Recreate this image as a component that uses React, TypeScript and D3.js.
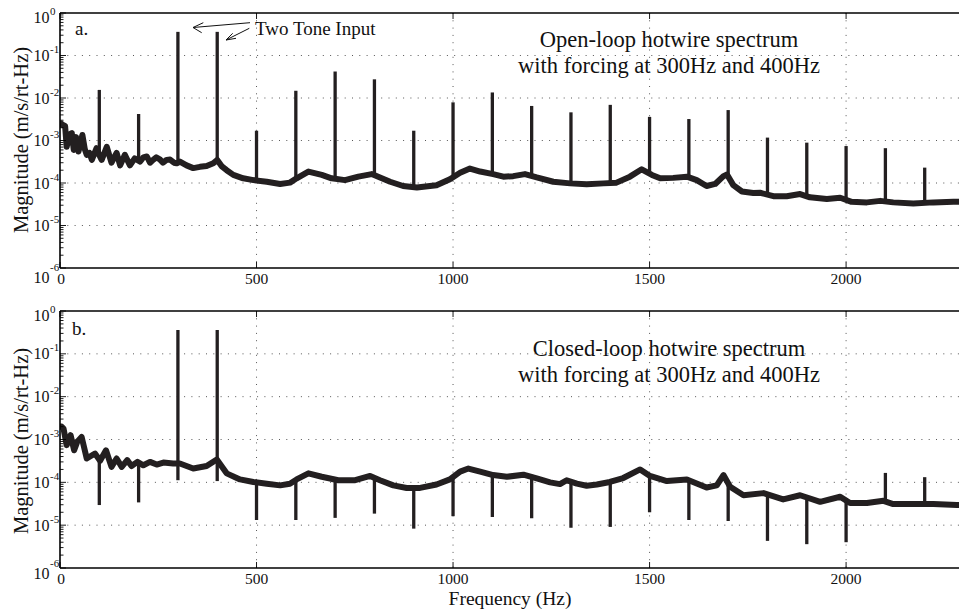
import React from 'react';
import * as d3 from 'd3';

// ---------- data ----------
const openFreq = [0, 3, 8, 13, 17, 24, 30, 35, 41, 47, 57, 63, 68, 75, 81, 93, 100, 106, 119, 131, 144, 153, 165, 178, 190, 204, 212, 221, 229, 237, 245, 254, 262, 271, 280, 290, 297, 305, 322, 339, 356, 373, 390, 400, 411, 424, 441, 466, 492, 526, 560, 585, 602, 632, 666, 691, 725, 759, 793, 840, 873, 908, 958, 992, 1018, 1043, 1069, 1102, 1128, 1153, 1183, 1213, 1255, 1298, 1340, 1383, 1416, 1450, 1480, 1506, 1527, 1560, 1595, 1620, 1645, 1667, 1688, 1697, 1713, 1735, 1764, 1781, 1815, 1849, 1883, 1908, 1951, 1985, 2014, 2053, 2087, 2120, 2171, 2222, 2273, 2300];
const openMag = [2.4e-3, 2.5e-3, 2.3e-3, 2.2e-3, 7.1e-4, 1.4e-3, 1.5e-3, 6.0e-4, 1.2e-3, 5.5e-4, 1.35e-3, 6.3e-4, 4.6e-4, 5.1e-4, 3.5e-4, 6.6e-4, 4.5e-4, 3.5e-4, 7.1e-4, 3.0e-4, 5.1e-4, 2.6e-4, 4.6e-4, 2.6e-4, 3.8e-4, 3.2e-4, 4.0e-4, 4.2e-4, 3.0e-4, 3.5e-4, 4.0e-4, 3.6e-4, 3.0e-4, 3.5e-4, 3.55e-4, 3.0e-4, 2.9e-4, 3.2e-4, 2.6e-4, 2.24e-4, 2.4e-4, 2.5e-4, 2.9e-4, 3.5e-4, 2.5e-4, 2.0e-4, 1.55e-4, 1.29e-4, 1.17e-4, 1.07e-4, 9.5e-5, 1.02e-4, 1.29e-4, 1.86e-4, 1.55e-4, 1.29e-4, 1.17e-4, 1.41e-4, 1.62e-4, 1.07e-4, 8.5e-5, 7.8e-5, 8.9e-5, 1.23e-4, 1.74e-4, 2.19e-4, 1.86e-4, 1.62e-4, 1.41e-4, 1.45e-4, 1.62e-4, 1.35e-4, 1.07e-4, 9.8e-5, 9.3e-5, 9.8e-5, 1.02e-4, 1.41e-4, 2.1e-4, 1.55e-4, 1.29e-4, 1.32e-4, 1.41e-4, 1.17e-4, 8.5e-5, 9.5e-5, 1.45e-4, 1.58e-4, 8.9e-5, 6.3e-5, 5.8e-5, 5.9e-5, 4.9e-5, 4.9e-5, 5.5e-5, 4.6e-5, 4.2e-5, 4.5e-5, 3.6e-5, 3.5e-5, 3.8e-5, 3.5e-5, 3.3e-5, 3.5e-5, 3.6e-5, 3.6e-5];

const openSpikeFreq = [100, 200, 300, 400, 500, 600, 700, 800, 900, 1000, 1100, 1200, 1300, 1400, 1500, 1600, 1700, 1800, 1900, 2000, 2100, 2200];
const openSpikePeak = [1.55e-2, 4.2e-3, 0.36, 0.36, 1.7e-3, 1.48e-2, 4.2e-2, 2.75e-2, 1.7e-3, 7.9e-3, 1.35e-2, 6.5e-3, 4.6e-3, 6.9e-3, 3.6e-3, 3.2e-3, 5.2e-3, 1.17e-3, 8.9e-4, 7.4e-4, 6.6e-4, 2.3e-4];

const closedFreq = [0, 4, 9, 17, 27, 36, 44, 55, 68, 89, 102, 117, 131, 144, 157, 171, 182, 197, 212, 229, 246, 263, 288, 305, 339, 373, 399, 424, 458, 492, 526, 560, 585, 602, 632, 666, 708, 751, 789, 814, 848, 882, 916, 958, 992, 1018, 1039, 1069, 1102, 1137, 1179, 1213, 1247, 1272, 1289, 1315, 1340, 1366, 1399, 1433, 1476, 1501, 1544, 1595, 1645, 1671, 1688, 1705, 1739, 1790, 1840, 1883, 1934, 1985, 2010, 2053, 2095, 2120, 2180, 2222, 2282, 2300];
const closedMag = [2.0e-3, 2.0e-3, 1.8e-3, 7.4e-4, 1.26e-3, 5.6e-4, 8.9e-4, 1.15e-3, 3.6e-4, 4.7e-4, 3.2e-4, 5.6e-4, 2.3e-4, 3.6e-4, 2.3e-4, 3.3e-4, 2.4e-4, 3.0e-4, 2.5e-4, 3.0e-4, 2.6e-4, 2.9e-4, 2.75e-4, 2.75e-4, 2.1e-4, 2.4e-4, 3.4e-4, 1.62e-4, 1.17e-4, 1.02e-4, 9.3e-5, 8.5e-5, 9.3e-5, 1.17e-4, 1.62e-4, 1.35e-4, 1.12e-4, 1.12e-4, 1.41e-4, 1.12e-4, 8.5e-5, 7.4e-5, 7.4e-5, 8.9e-5, 1.17e-4, 1.78e-4, 2.1e-4, 1.78e-4, 1.48e-4, 1.35e-4, 1.51e-4, 1.23e-4, 1.0e-4, 9.1e-5, 1.12e-4, 9.3e-5, 8.3e-5, 8.9e-5, 1.02e-4, 1.26e-4, 2.0e-4, 1.41e-4, 1.07e-4, 1.17e-4, 7.6e-5, 8.5e-5, 1.48e-4, 7.9e-5, 5.0e-5, 5.6e-5, 4.0e-5, 5.0e-5, 3.5e-5, 4.6e-5, 3.3e-5, 3.3e-5, 3.7e-5, 3.1e-5, 3.1e-5, 3.1e-5, 2.95e-5, 2.95e-5];

const closedSpikeFreq = [100, 200, 300, 400, 500, 600, 700, 800, 900, 1000, 1100, 1200, 1300, 1400, 1500, 1600, 1700, 1800, 1900, 2000, 2100, 2200];
const closedSpikePeak: (number | null)[] = [null, null, 0.36, 0.36, null, null, null, null, null, null, null, null, null, null, null, null, null, null, null, null, 1.66e-4, 1.32e-4];
const closedSpikeTrough: (number | null)[] = [2.95e-5, 3.4e-5, 1.12e-4, 1.07e-4, 1.32e-5, 1.32e-5, 1.48e-5, 1.86e-5, 8.3e-6, 1.62e-5, 1.55e-5, 1.45e-5, 8.7e-6, 9.1e-6, 2.0e-5, 1.32e-5, 1.25e-5, 4.3e-6, 3.6e-6, 4.0e-6, null, null];

const xTicks = [0, 500, 1000, 1500, 2000];
const yExponents = [0, -1, -2, -3, -4, -5, -6];

// ---------- layout ----------
const W = 959;
const H = 612;
const LEFT = 60;
const RIGHT = 964;
const FONT = "'Liberation Serif', 'Times New Roman', Times, serif";
const INK = '#231f20';

type PanelProps = {
  id: string;
  top: number;
  bottom: number;
  freq: number[];
  mag: number[];
  spikeFreq: number[];
  spikeHi: (number | null)[];
  spikeLo: (number | null)[];
  tag: string;
  tagX: number;
  tagY: number;
  titles: string[];
  titleY: number[];
  bottomLabelShift: number;
  yLabelCenter: number;
};

function Panel(p: PanelProps) {
  const x = d3.scaleLinear().domain([0, 2300]).range([LEFT, RIGHT]);
  const y = d3.scaleLog().domain([1e-6, 1]).range([p.bottom, p.top]);
  const line = d3
    .line<number>()
    .x((_, i) => x(p.freq[i]))
    .y((d) => y(d));
  const baseAt = (f: number) => {
    let i = d3.bisectRight(p.freq, f) - 1;
    i = Math.max(0, Math.min(p.freq.length - 2, i));
    const t = (f - p.freq[i]) / (p.freq[i + 1] - p.freq[i]);
    return y(p.mag[i]) + t * (y(p.mag[i + 1]) - y(p.mag[i]));
  };
  const allTicks = y.ticks();
  const isMajor = (v: number) => Math.abs(Math.log10(v) - Math.round(Math.log10(v))) < 1e-6;
  const clipId = 'clip-' + p.id;
  return (
    <g>
      <defs>
        <clipPath id={clipId}>
          <rect x={LEFT} y={p.top} width={RIGHT - LEFT} height={p.bottom - p.top} />
        </clipPath>
      </defs>
      {/* grid */}
      {yExponents.slice(1, -1).map((e) => (
        <line key={'gy' + e} x1={LEFT} x2={RIGHT} y1={y(Math.pow(10, e))} y2={y(Math.pow(10, e))}
          stroke="#444" strokeWidth={0.9} strokeDasharray="1,6.3" />
      ))}
      {xTicks.slice(1).map((t) => (
        <line key={'gx' + t} x1={x(t)} x2={x(t)} y1={p.top} y2={p.bottom}
          stroke="#444" strokeWidth={0.9} strokeDasharray="1,6.3" />
      ))}
      {/* data */}
      <g clipPath={`url(#${clipId})`}>
        {p.spikeFreq.map((f, i) => {
          const base = baseAt(f);
          const hi = p.spikeHi[i];
          const lo = p.spikeLo[i];
          const ya = hi != null ? y(hi) : base;
          const yb = lo != null ? y(lo) : base;
          return (
            <line key={'s' + f} x1={x(f)} x2={x(f)} y1={ya} y2={yb}
              stroke={INK} strokeWidth={3.3} strokeLinecap="butt" />
          );
        })}
        <path d={line(p.mag) || ''} fill="none" stroke={INK} strokeWidth={6}
          strokeLinejoin="round" strokeLinecap="round" />
      </g>
      {/* axes box */}
      <line x1={LEFT} x2={RIGHT} y1={p.top} y2={p.top} stroke="#000" strokeWidth={1.3} />
      <line x1={LEFT} x2={RIGHT} y1={p.bottom} y2={p.bottom} stroke="#000" strokeWidth={1.6} />
      <line x1={LEFT} x2={LEFT} y1={p.top} y2={p.bottom} stroke="#000" strokeWidth={1.6} />
      {/* y ticks */}
      {allTicks.map((v, i) => {
        const len = isMajor(v) ? 6 : 3.5;
        return (
          <line key={'yt' + i} x1={LEFT} x2={LEFT + len} y1={y(v)} y2={y(v)} stroke="#000" strokeWidth={0.9} />
        );
      })}
      {/* x ticks */}
      {xTicks.map((t) => (
        <g key={'xt' + t}>
          <line x1={x(t)} x2={x(t)} y1={p.bottom} y2={p.bottom - 6} stroke="#000" strokeWidth={0.9} />
          <line x1={x(t)} x2={x(t)} y1={p.top} y2={p.top + 6} stroke="#000" strokeWidth={0.9} />
          <text x={x(t) + (t === 0 ? 1 : 0)} y={p.bottom + 16} textAnchor="middle" fontFamily={FONT} fontSize={15.5} fill="#111">
            {t}
          </text>
        </g>
      ))}
      {/* y tick labels */}
      {yExponents.map((e) => {
        const yy = y(Math.pow(10, e));
        const isLow = e === -6;
        const shift = e === 0 ? 4.5 : isLow ? p.bottomLabelShift : 0;
        return (
          <g key={'yl' + e}>
            <text x={49.5} y={yy + 5.5 + shift} textAnchor="end" fontFamily={FONT} fontSize={16} fill="#111">
              10
            </text>
            <text x={50} y={yy + 5.5 + shift - (isLow ? 11.5 : 8)} textAnchor="start" fontFamily={FONT} fontSize={11} fill="#111">
              {e === 0 ? '0' : '-' + Math.abs(e)}
            </text>
          </g>
        );
      })}
      {/* y label */}
      <text transform={`translate(28,${p.yLabelCenter}) rotate(-90)`} textAnchor="middle"
        fontFamily={FONT} fontSize={20.5} fill="#111">
        Magnitude (m/s/rt-Hz)
      </text>
      {/* tag */}
      <text x={p.tagX} y={p.tagY} fontFamily={FONT} fontSize={19} fill="#111">{p.tag}</text>
      {p.titles.map((t, i) => (
        <text key={'ti' + i} x={669} y={p.titleY[i]} textAnchor="middle" fontFamily={FONT} fontSize={22.5} fill="#111">
          {t}
        </text>
      ))}
    </g>
  );
}

export default function App() {
  return (
    <svg width={W} height={H} viewBox={`0 0 ${W} ${H}`}
      style={{ position: 'absolute', left: 0, top: 0, background: '#fff' }}>
      <rect x={0} y={0} width={W} height={H} fill="#fff" />
      <Panel id="a" top={13} bottom={268} freq={openFreq} mag={openMag}
        spikeFreq={openSpikeFreq} spikeHi={openSpikePeak} spikeLo={openSpikeFreq.map(() => null)}
        tag="a." tagX={75} tagY={35}
        titles={['Open-loop hotwire spectrum', 'with forcing at 300Hz and 400Hz']} titleY={[47, 73]}
        bottomLabelShift={9} yLabelCenter={140} />
      <Panel id="b" top={311} bottom={568} freq={closedFreq} mag={closedMag}
        spikeFreq={closedSpikeFreq} spikeHi={closedSpikePeak} spikeLo={closedSpikeTrough}
        tag="b." tagX={72} tagY={335}
        titles={['Closed-loop hotwire spectrum', 'with forcing at 300Hz and 400Hz']} titleY={[356, 382]}
        bottomLabelShift={5} yLabelCenter={441} />
      {/* annotation */}
      <g stroke="#111" strokeWidth={1} fill="none">
        <line x1={250} y1={22.7} x2={193} y2={27.5} />
        <polyline points="203.3,22.7 193,27.5 201.7,32.7" />
        <line x1={249.3} y1={28.3} x2={226} y2={40} />
        <polyline points="232.7,33.3 226,40 236,38.3" />
      </g>
      <text x={255} y={35} fontFamily={FONT} fontSize={19} fill="#111">Two Tone Input</text>
      <text x={510} y={605} textAnchor="middle" fontFamily={FONT} fontSize={19.5} fill="#111">
        Frequency (Hz)
      </text>
    </svg>
  );
}
